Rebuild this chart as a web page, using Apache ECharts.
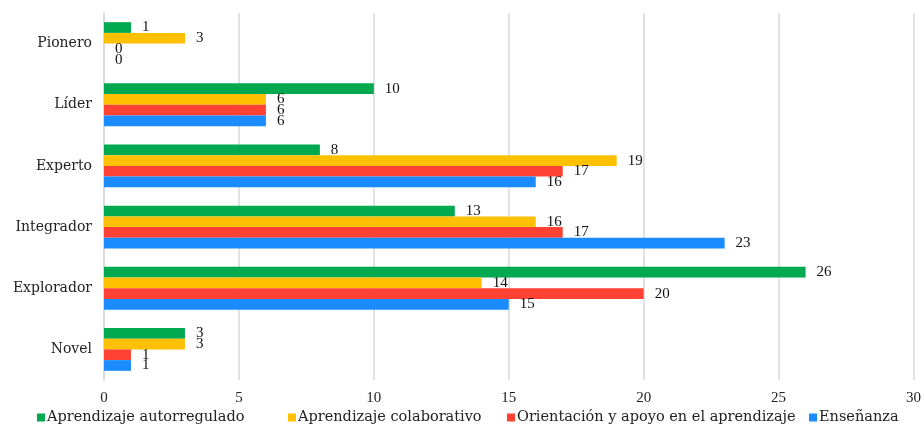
<!DOCTYPE html>
<html>
<head>
<meta charset="utf-8">
<script src="https://cdn.jsdelivr.net/npm/echarts@6/dist/echarts.min.js"></script>
<style>
html,body{margin:0;padding:0;background:#fff;}
#chart{width:924px;height:425px;}
</style>
</head>
<body>
<div id="chart"></div>
<script>
// Categories, bottom to top on the axis
const categories = ['Novel', 'Explorador', 'Integrador', 'Experto', 'Líder', 'Pionero'];
const seriesNames = ['Aprendizaje autorregulado', 'Aprendizaje colaborativo', 'Orientación y apoyo en el aprendizaje', 'Enseñanza'];
const autorregulado = [3, 26, 13, 8, 10, 1];
const colaborativo = [3, 14, 16, 19, 6, 3];
const orientacion = [1, 20, 17, 17, 6, 0];
const ensenanza = [1, 15, 23, 16, 6, 0];
const xTicks = [0, 5, 10, 15, 20, 25, 30];

const colors = {
  'Aprendizaje autorregulado': '#00A94F',
  'Aprendizaje colaborativo': '#FFC000',
  'Orientación y apoyo en el aprendizaje': '#FF4234',
  'Enseñanza': '#1A8CFF'
};
const valuesByName = {
  'Aprendizaje autorregulado': autorregulado,
  'Aprendizaje colaborativo': colaborativo,
  'Orientación y apoyo en el aprendizaje': orientacion,
  'Enseñanza': ensenanza
};

const font = '"Liberation Serif", "Times New Roman", serif';
const wideFont = '"DejaVu Serif", "Liberation Serif", serif';

// first series sits at the top of each group
const series = seriesNames.map(name => ({
  name: name,
  type: 'bar',
  data: valuesByName[name],
  barCategoryGap: '30%',
  barGap: '0%',
  itemStyle: { color: colors[name] },
  label: {
    show: true,
    position: 'right',
    distance: 11,
    color: '#111',
    fontFamily: font,
    fontSize: 15
  }
}));

// one legend block per series so each entry starts where it does in the picture
const legendLefts = [37, 288, 507, 809];
const legends = seriesNames.map((name, i) => ({
  data: [name],
  bottom: 0,
  left: legendLefts[i],
  padding: 0,
  icon: 'rect',
  itemWidth: 8,
  itemHeight: 8,
  textStyle: { fontFamily: wideFont, fontSize: 14.5, color: '#222', padding: [0, 0, 0, -3] }
}));

const chart = echarts.init(document.getElementById('chart'), null, { renderer: 'canvas' });
chart.setOption({
  animation: false,
  backgroundColor: '#fff',
  grid: { left: 104, right: 10, top: 13, bottom: 45, containLabel: false },
  legend: legends,
  xAxis: {
    type: 'value',
    min: xTicks[0],
    max: xTicks[xTicks.length - 1],
    interval: 5,
    axisLine: { show: false },
    axisTick: { show: false },
    splitLine: { show: true, lineStyle: { color: '#D9D9D9', width: 1.5 } },
    axisLabel: { fontFamily: font, fontSize: 15, color: '#222', margin: 11 }
  },
  yAxis: {
    type: 'category',
    data: categories,
    axisLine: { show: true, lineStyle: { color: '#D9D9D9', width: 1.5 } },
    axisTick: { show: false },
    axisLabel: { fontFamily: wideFont, fontSize: 14, color: '#222', margin: 12 }
  },
  series: series
});
</script>
</body>
</html>
